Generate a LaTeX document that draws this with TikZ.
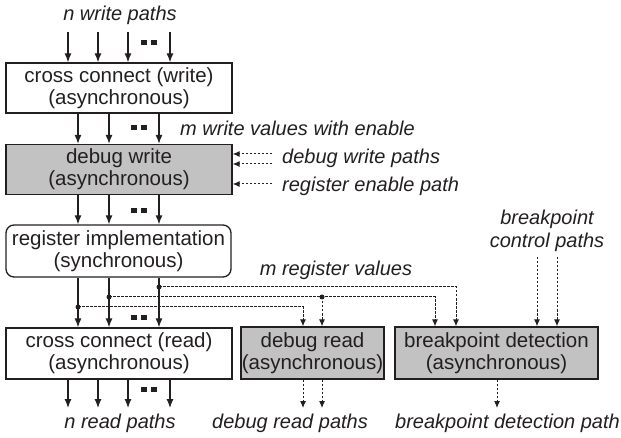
\documentclass[tikz,border=0pt]{standalone}
\usepackage{fontspec}
\setmainfont{Liberation Sans}
\usetikzlibrary{arrows.meta}
\definecolor{ink}{RGB}{35,31,32}
\definecolor{boxgray}{RGB}{194,194,194}

\begin{document}
\begin{tikzpicture}
        [x=1pt,y=-1pt,ink,every node/.style={inner sep=0pt,align=center,
        font=\fontsize{20.5}{22}\selectfont},
        blk/.style={draw,line width=1.3pt,minimum width=226pt,minimum height=50pt},
        shaded/.style={blk,fill=boxgray},
        lbl/.style={font=\fontsize{20}{23}\selectfont\itshape},
        arr/.style={line width=1.2pt,-{Latex[length=9pt,width=7pt]}},
        darr/.style={line width=1pt,dash pattern=on 2.5pt off 1.5pt,
        -{Latex[length=7pt,width=6pt]}},
        dsh/.style={line width=1pt,dash pattern=on 2.5pt off 1.5pt}]
        \useasboundingbox (0,0) rectangle (621,438);
        %% blocks
        \node[blk] (cw) at (119,88) {cross connect (write)\\(asynchronous)};
        \node[shaded] (dw) at (119,169.5) {debug write\\(asynchronous)};
        \node[blk,rounded corners=8pt,minimum width=225pt,minimum height=52pt]
          (reg) at (118.5,251) {register implementation\\(synchronous)};
        \node[blk,minimum height=51pt] (cr) at (119,353.5)
          {cross connect (read)\\(asynchronous)};
        \node[shaded,minimum width=143pt,minimum height=52pt] (dr)
          at (312.5,353) {debug read\\(asynchronous)};
        \node[shaded,minimum width=203pt,minimum height=52pt] (bd)
          at (496.5,353) {breakpoint detection\\(asynchronous)};
        %% labels
        \node[lbl] (nw) at (120,15) {n write paths};
        \node[lbl,anchor=west] (mw) at (180,128) {m write values with enable};
        \node[lbl,anchor=west] (dwp) at (282,158) {debug write paths};
        \node[lbl,anchor=west] (rep) at (282,186) {register enable path};
        \node[lbl] (bcp) at (547,231) {breakpoint\\control paths};
        \node[lbl] (mrv) at (336,270) {m register values};
        \node[lbl] (nrp) at (120,423) {n read paths};
        \node[lbl] (drp) at (290,423) {debug read paths};
        \node[lbl,anchor=east] (bdp) at (620,423) {breakpoint detection path};
        %% free ends
        \coordinate (wtop) at (0,32);
        \coordinate (rbot) at (0,408);
        \coordinate (dwin) at (272,0);
        \coordinate (bctop) at (0,257);
        %% junctions
        \coordinate (j1) at (159,287);
        \coordinate (j2) at (109,297);
        \coordinate (j3) at (78,307);
        \coordinate (j4) at (322,297);
        \path
        \foreach \x in {68,98,128,170}
        {
          (\x,0 |- wtop) edge[arr] (\x,0 |- cw.north)
          (\x,0 |- cr.south) edge[arr] (\x,0 |- rbot)
        }
        \foreach \x in {78,109,159}
        {
          (\x,0 |- cw.south) edge[arr] (\x,0 |- dw.north)
          (\x,0 |- dw.south) edge[arr] (\x,0 |- reg.north)
          (\x,0 |- reg.south) edge[arr] (\x,0 |- cr.north)
        }
        \foreach \y in {154,164,184}
        {
          (dwin |- 0,\y) edge[darr] (dw.east |- 0,\y)
        }
        \foreach \x in {537,557}
        {
          (\x,0 |- bctop) edge[darr] (\x,0 |- bd.north)
        }
        \foreach \x in {303,322}
        {
          (\x,0 |- dr.south) edge[darr] (\x,0 |- rbot)
        }
        (497,0 |- bd.south) edge[darr] (497,0 |- rbot);
        %% register values to debug read / breakpoint detection
        \draw[darr] (j1) -| (456,0 |- bd.north);
        \draw[darr] (j2) -| (435,0 |- bd.north);
        \draw[darr] (j4) -- (j4 |- dr.north);
        \draw[darr] (j3) -| (303,0 |- dr.north);
        \foreach \j in {j1,j2,j3,j4}
          \fill (\j) circle (2.5pt);
        %% gaps
        \foreach \x/\y in {143.5/42.5,153.5/42.5,133.5/127.5,143.5/127.5,
          133.5/210.5,143.5/210.5,133.5/317.5,143.5/317.5,143.5/389.5,153.5/389.5}
          \fill ([xshift=-3pt,yshift=2.5pt]\x,\y) rectangle +(6,5);
\end{tikzpicture}
\end{document}
